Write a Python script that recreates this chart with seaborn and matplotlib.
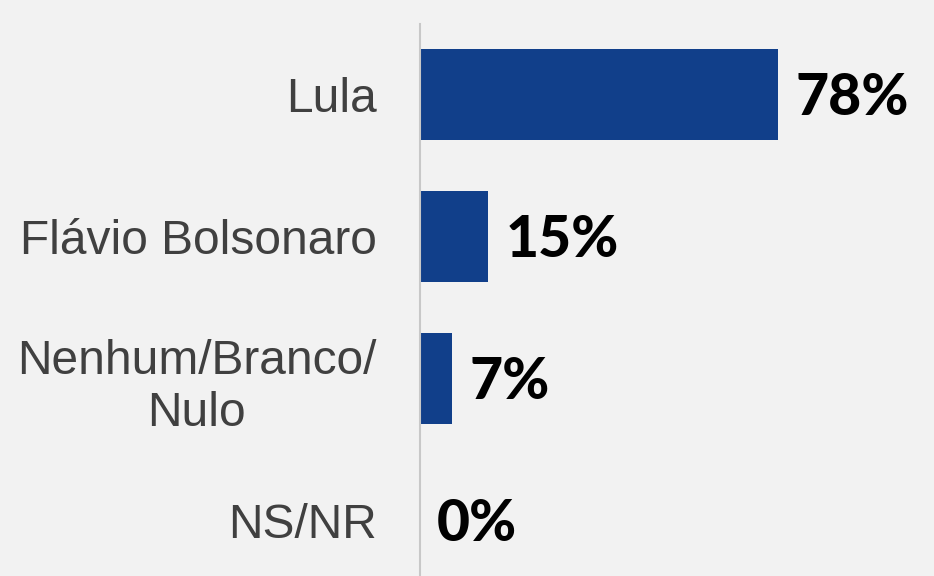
import matplotlib
matplotlib.use("Agg")
import matplotlib.pyplot as plt
import seaborn as sns
import pandas as pd

categories = ["Lula", "Flávio Bolsonaro", "Nenhum/Branco/\nNulo", "NS/NR"]
values = [78, 15, 7, 0]

df = pd.DataFrame({"candidato": categories, "pct": values})

sns.set_theme(style="white")
plt.rcParams["font.family"] = ["Liberation Sans", "DejaVu Sans"]

bg = "#f2f2f2"
fig = plt.figure(figsize=(9.34, 5.76), dpi=100, facecolor=bg)
# axes spans a little below the figure so the last row sits at the edge
ax = fig.add_axes([419.5 / 934, -15.5 / 576, 1 - 419.5 / 934, 568 / 576])
ax.set_facecolor(bg)

sns.barplot(data=df, x="pct", y="candidato", color="#113f8a", width=0.64,
            saturation=1, linewidth=0, ax=ax)

ax.set_xlim(0, 112)
ax.set_ylim(3.5, -0.5)
ax.set_xlabel("")
ax.set_ylabel("")
ax.set_xticks([])
for s in ["top", "right", "bottom"]:
    ax.spines[s].set_visible(False)
ax.spines["left"].set_color("#c8c8c8")
ax.spines["left"].set_linewidth(1.5)

ax.tick_params(axis="y", length=0, pad=31, labelsize=34.5, labelcolor="#404040")
for lbl in ax.get_yticklabels():
    lbl.set_multialignment("center")
    lbl.set_linespacing(1.2)

for i, v in enumerate(values):
    ax.annotate(f"{v}%", xy=(v, i), xytext=(12.5, -3), textcoords="offset points",
                ha="left", va="center", fontsize=41, fontweight="black",
                family=["Lato", "DejaVu Sans"], color="black")

fig.savefig("out.png", dpi=100, facecolor=bg)
